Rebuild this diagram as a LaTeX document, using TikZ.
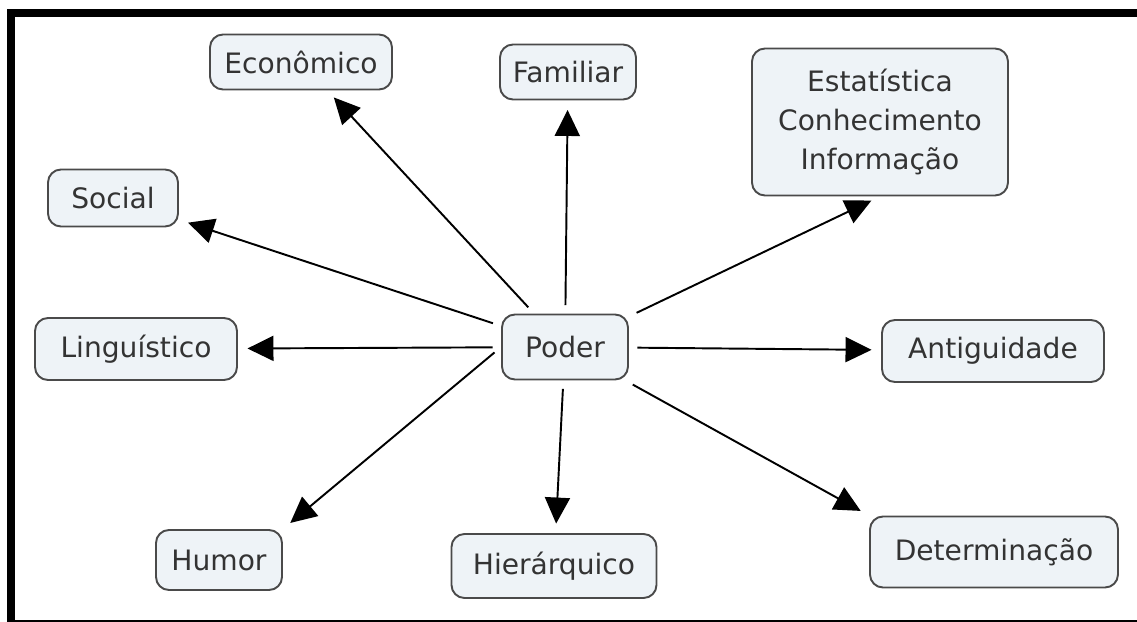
\documentclass[tikz,border=0pt]{standalone}
\usepackage{fontspec}
\setmainfont{DejaVu Sans}
\usetikzlibrary{arrows.meta}
\definecolor{conceptfill}{HTML}{EEF3F7}
\definecolor{conceptline}{HTML}{4A4A4A}
\definecolor{concepttext}{HTML}{333333}
\begin{document}
\begin{tikzpicture}[x=0.02cm, y=-0.02cm,
  concept/.style={draw=conceptline, line width=1.1pt, fill=conceptfill, rounded corners=0.26cm,
    text=concepttext, align=center, inner sep=0pt,
    font=\fontsize{16}{22}\selectfont},
  link/.style={line width=1.1pt, -{Triangle[length=0.52cm, width=0.5cm]},
    shorten <=0.17cm, shorten >=0.19cm}]
% Set the unit: one pixel of the reference
\def\px{0.02cm}

% Page and frame
\useasboundingbox (0,0) rectangle (1137,622);
\fill[white] (0,0) rectangle (1137,622);
\draw[line width=0.16cm] (11,622) -- (11,13) -- (1137,13);
\draw[line width=0.05cm] (11,621) -- (1137,621);

% Concepts
\node[concept, minimum width=126*\px, minimum height=65*\px] (poder) at (565,347) {Poder};
\node[concept, minimum width=182*\px, minimum height=55*\px] (economico) at (301,62) {Econômico};
\node[concept, minimum width=136*\px, minimum height=55*\px] (familiar) at (568,72) {Familiar};
\node[concept, minimum width=256*\px, minimum height=147*\px] (estatistica) at (880,122) {Estatística\\Conhecimento\\Informação};
\node[concept, minimum width=130*\px, minimum height=57*\px] (social) at (113,198) {Social};
\node[concept, minimum width=202*\px, minimum height=62*\px] (linguistico) at (136,349) {Linguístico};
\node[concept, minimum width=222*\px, minimum height=62*\px] (antiguidade) at (993,351) {Antiguidade};
\node[concept, minimum width=126*\px, minimum height=60*\px] (humor) at (219,560) {Humor};
\node[concept, minimum width=205*\px, minimum height=64*\px] (hierarquico) at (554,566) {Hierárquico};
\node[concept, minimum width=248*\px, minimum height=71*\px] (determinacao) at (994,552) {Determinação};

% Links from the centre
\draw[link] (poder) -- (economico);
\draw[link] (poder) -- (familiar);
\draw[link] (poder) -- (estatistica.south);
\draw[link] (poder) -- (social);
\draw[link] (poder) -- (linguistico);
\draw[link] (poder) -- (antiguidade);
\draw[link] (poder.west) -- (humor.north east);
\draw[link] (poder) -- (hierarquico);
\draw[link] (poder) -- (determinacao.north west);
\end{tikzpicture}
\end{document}
